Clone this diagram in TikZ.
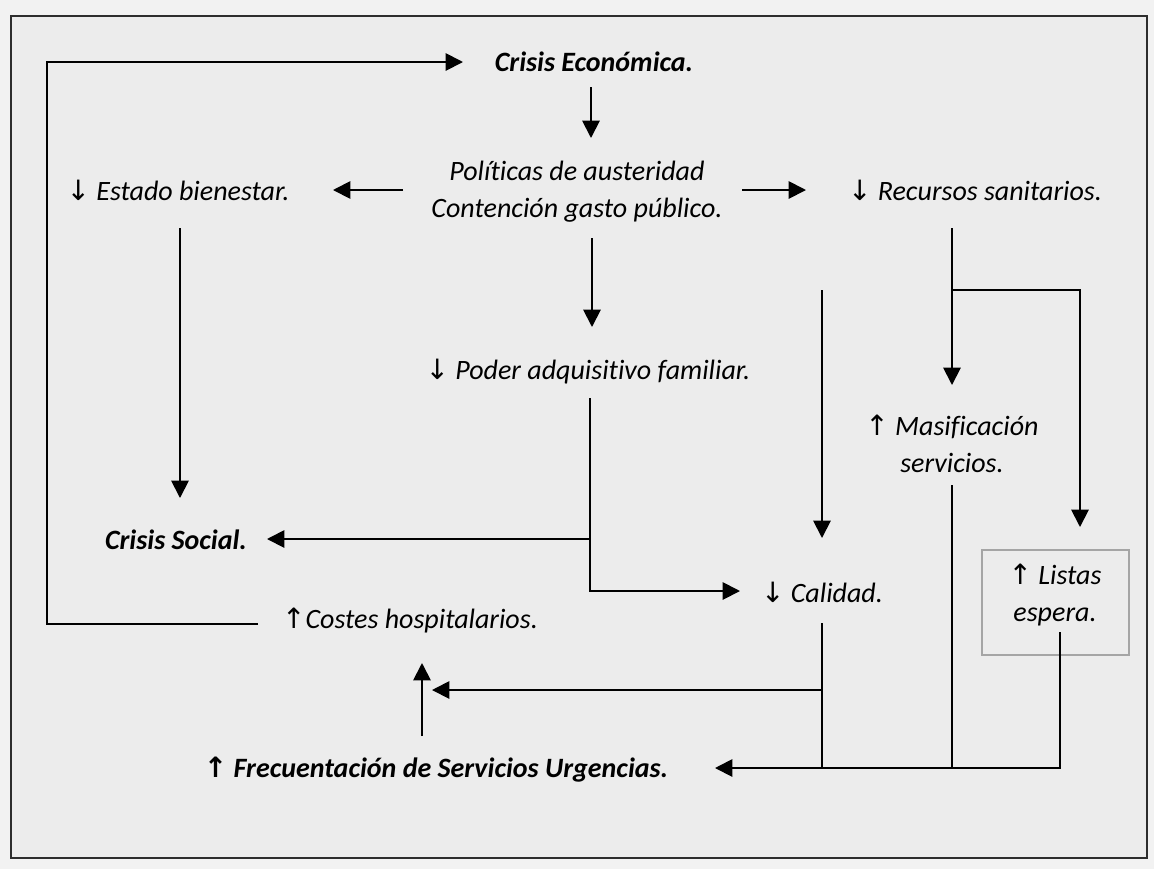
\documentclass[tikz,border=0pt]{standalone}
\usepackage{fontspec}
\setmainfont[Ligatures={NoCommon}]{Carlito}
\newfontfamily\arrowfont{DejaVu Sans}
\usetikzlibrary{arrows.meta}
\definecolor{bgout}{RGB}{242,242,242}
\definecolor{bgin}{RGB}{236,236,236}
\definecolor{bordercol}{RGB}{45,45,45}
\definecolor{boxgray}{RGB}{165,165,165}
\newcommand{\mydn}{{\arrowfont\mdseries\upshape ↓}}
\newcommand{\myup}{{\arrowfont\mdseries\upshape ↑}}
\newcommand{\myupb}{{\arrowfont\bfseries\upshape ↑}}
\begin{document}
\begin{tikzpicture}[x=0.75pt,y=-0.75pt,
  lbl/.style={inner sep=0pt, font=\fontsize{21}{27.75}\selectfont\itshape, align=center},
  blbl/.style={inner sep=0pt, font=\fontsize{21}{27.75}\selectfont\bfseries\itshape, align=center},
  conn/.style={line width=1.4pt, draw=black},
  arr/.style={conn, -{Triangle[length=13pt,width=13pt]}}]
\fill[bgout] (0,0) rectangle (1154,869);
\draw[draw=bordercol, line width=2.2pt, fill=bgin] (11,16) rectangle (1147,858);
\useasboundingbox (0,0) rectangle (1154,869);
% nodes
\node[blbl] (ce) at (594,62) {Crisis Económica.};
\node[lbl] (pol) at (577,192) {Políticas de austeridad\\Contención gasto público.};
\node[lbl] (eb) at (178,190) {\mydn\ Estado bienestar.};
\node[lbl] (rs) at (975,190) {\mydn\ Recursos sanitarios.};
\node[lbl] (pa) at (588,372) {\mydn\ Poder adquisitivo familiar.};
\node[blbl] (cs) at (176,540) {Crisis Social.};
\node[lbl] (cal) at (822,592) {\mydn\ Calidad.};
\node[lbl] (mas) at (952,444) {\myup\ Masificación\\servicios.};
\node[lbl] (le) at (1055,595) {\myup\ Listas\\espera.};
\draw[draw=boxgray, line width=0.9pt] (982,550) rectangle (1129,655);
\node[lbl] (ch) at (410,620) {\myup Costes hospitalarios.};
\node[blbl] (fr) at (436,770) {\myupb\ Frecuentación de Servicios Urgencias.};
% connector points
\coordinate (ceS) at (591,87);  \coordinate (polN) at (591,138);
\coordinate (polW) at (403,190); \coordinate (ebE) at (333,190);
\coordinate (polE) at (742,190); \coordinate (rsW) at (806,190);
\coordinate (polS) at (592,238); \coordinate (paN) at (592,327);
\coordinate (ebS) at (180,228); \coordinate (csN) at (180,498);
\coordinate (paS) at (590,398); \coordinate (paJ) at (590,539);
\coordinate (paB) at (590,591); \coordinate (calW) at (740,591);
\coordinate (csE) at (267,539);
\coordinate (rcT) at (822,290); \coordinate (calN) at (822,538);
\coordinate (rsS) at (952,228); \coordinate (rsJ) at (952,290);
\coordinate (masN) at (952,385); \coordinate (rsR) at (1080,290);
\coordinate (leN) at (1080,527);
\coordinate (calS) at (822,623); \coordinate (calJ) at (822,690);
\coordinate (calB) at (822,768); \coordinate (chR) at (432,690);
\coordinate (masS) at (952,485); \coordinate (masB) at (952,768);
\coordinate (leS) at (1060,632); \coordinate (leB) at (1060,768);
\coordinate (frE) at (715,768);
\coordinate (frN) at (422,736); \coordinate (chS) at (422,663);
\coordinate (chW) at (258,624); \coordinate (loopBL) at (47,624);
\coordinate (loopTL) at (47,62); \coordinate (ceW) at (463,62);
% connectors
\draw[arr] (ceS) -- (polN);
\draw[arr] (polW) -- (ebE);
\draw[arr] (polE) -- (rsW);
\draw[arr] (polS) -- (paN);
\draw[arr] (ebS) -- (csN);
\draw[arr] (paS) -- (paB) -- (calW);
\draw[arr] (paJ) -- (csE);
\draw[arr] (rcT) -- (calN);
\draw[arr] (rsS) -- (masN);
\draw[arr] (rsJ) -- (rsR) -- (leN);
\draw[conn] (calS) -- (calB);
\draw[arr] (calJ) -- (chR);
\draw[conn] (masS) -- (masB);
\draw[arr] (leS) -- (leB) -- (frE);
\draw[arr] (frN) -- (chS);
\draw[arr] (chW) -- (loopBL) -- (loopTL) -- (ceW);
\end{tikzpicture}
\end{document}
